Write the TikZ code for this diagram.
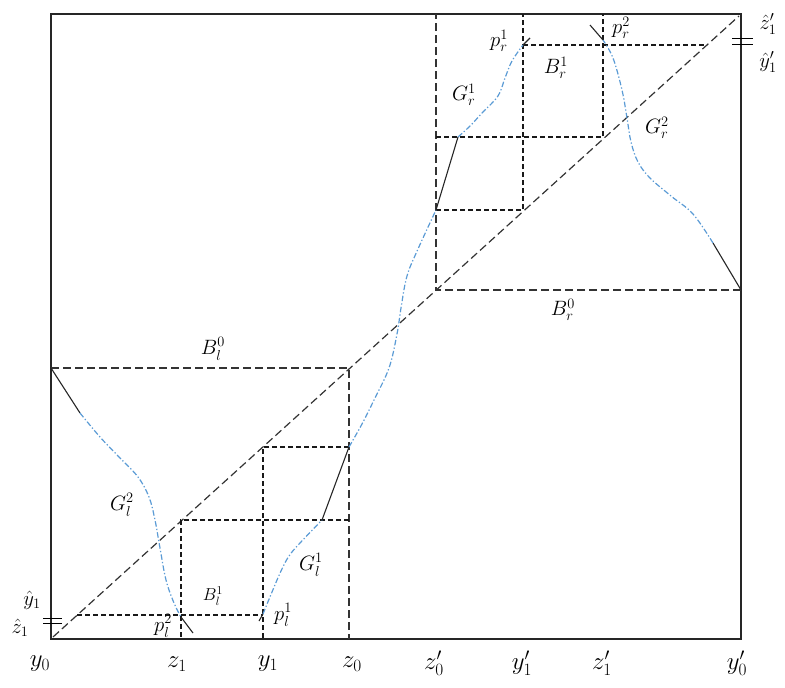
\documentclass[tikz,border=0pt]{standalone}
\usepackage{amsmath}
\definecolor{gblue}{RGB}{91,155,213}
\begin{document}
\begin{tikzpicture}[x=1pt,y=-1pt,
  frame/.style={line width=1.2pt,black!85},
  longdash/.style={line width=1.2pt,black!80,dash pattern=on 8pt off 4pt},
  shortdash/.style={line width=1.1pt,black!90,dash pattern=on 5pt off 3pt},
  gcurve/.style={line width=1.2pt,gblue,dash pattern=on 5.5pt off 2.2pt on 1.3pt off 2.2pt},
  seg/.style={line width=1.1pt,black!85},
  tick/.style={line width=1pt,black},
  lab/.style={inner sep=0pt,font=\fontsize{22}{26}\selectfont},
  smalllab/.style={inner sep=0pt,font=\fontsize{18}{21}\selectfont},
  axlab/.style={inner sep=0pt,font=\fontsize{26}{30}\selectfont},
  hatlab/.style={inner sep=0pt,font=\fontsize{20}{24}\selectfont}]
\useasboundingbox (0,0) rectangle (785,688);
% frame
\coordinate (BL) at (51,639);
\coordinate (TR) at (741,14);
\draw[frame] (BL) rectangle (TR);
% diagonal
\coordinate (d0) at (53,637);
\coordinate (d1) at (739,16);
\draw[longdash] (d0) -- (d1);
% bottom-left boxes
\coordinate (bl0a) at (51,368);
\coordinate (bl0b) at (349,368);
\coordinate (bl0c) at (349,639);
\draw[longdash] (bl0a) -- (bl0b) -- (bl0c);
\coordinate (q1a) at (263,447);
\coordinate (q1b) at (349,447);
\coordinate (q1c) at (263,639);
\draw[shortdash] (q1b) -- (q1a) -- (q1c);
\coordinate (q2a) at (181,520);
\coordinate (q2b) at (349,520);
\coordinate (q2c) at (181,639);
\draw[shortdash] (q2b) -- (q2a) -- (q2c);
\coordinate (q3a) at (77,615);
\coordinate (q3b) at (263,615);
\draw[shortdash] (q3a) -- (q3b);
% top-right boxes
\coordinate (br0a) at (741,290);
\coordinate (br0b) at (436,290);
\coordinate (br0c) at (436,14);
\draw[longdash] (br0a) -- (br0b) -- (br0c);
\coordinate (r1a) at (523,210);
\coordinate (r1b) at (436,210);
\coordinate (r1c) at (523,14);
\draw[shortdash] (r1b) -- (r1a) -- (r1c);
\coordinate (r2a) at (603,137);
\coordinate (r2b) at (436,137);
\coordinate (r2c) at (603,14);
\draw[shortdash] (r2b) -- (r2a) -- (r2c);
\coordinate (r3a) at (523,45);
\coordinate (r3b) at (707,45);
\draw[shortdash] (r3a) -- (r3b);
% G curves (first family)
\coordinate (pl1) at (263,614);
\coordinate (gl1a) at (322,520);
\coordinate (gl1b) at (349,447);
\coordinate (gr1b) at (436,210);
\coordinate (gr1a) at (458,137);
\coordinate (pr1) at (523,45);
\draw[gcurve] plot[smooth,tension=0.6] coordinates {(263,614) (272,592) (281,571) (289,556) (300,543) (322,520)};
\draw[seg] (gl1a) -- (gl1b);
\draw[gcurve] plot[smooth,tension=0.6] coordinates {(349,447) (362,424) (374,400) (389,368) (397,334) (401,308) (407,276) (418,249) (436,210)};
\draw[seg] (gr1b) -- (gr1a);
\draw[gcurve] plot[smooth,tension=0.6] coordinates {(458,137) (470,126) (483,112) (498,96) (505,78) (512,61) (523,45)};
\coordinate (pl1e) at (259,621);
\coordinate (pr1e) at (530,38);
\draw[seg] (pl1) -- (pl1e);
\draw[seg] (pr1) -- (pr1e);
% G curves (second family)
\coordinate (gl2s) at (51,368);
\coordinate (gl2a) at (80,413);
\coordinate (pl2) at (181,617);
\coordinate (pl2e) at (193,633);
\draw[seg] (gl2s) -- (gl2a);
\draw[gcurve] plot[smooth,tension=0.6] coordinates {(80,413) (100,437) (120,458) (138,477) (149,497) (155,520) (160,548) (166,580) (174,603) (181,617)};
\draw[seg] (pl2) -- (pl2e);
\coordinate (gr2s) at (741,290);
\coordinate (gr2a) at (713,243);
\coordinate (pr2) at (603,40);
\coordinate (pr2e) at (590,25);
\draw[seg] (gr2s) -- (gr2a);
\draw[gcurve] plot[smooth,tension=0.6] coordinates {(713,243) (693,214) (671,196) (650,178) (638,162) (631,142) (627,118) (622,90) (613,58) (603,40)};
\draw[seg] (pr2) -- (pr2e);
% tick marks
\coordinate (tl1a) at (43,618); \coordinate (tl1b) at (62,618);
\coordinate (tl2a) at (43,623); \coordinate (tl2b) at (62,623);
\draw[tick] (tl1a) -- (tl1b);
\draw[tick] (tl2a) -- (tl2b);
\coordinate (tr1a) at (732,38); \coordinate (tr1b) at (753,38);
\coordinate (tr2a) at (732,44); \coordinate (tr2b) at (753,44);
\draw[tick] (tr1a) -- (tr1b);
\draw[tick] (tr2a) -- (tr2b);
% labels
\node[lab] (LBl0) at (213,349) {$B_l^0$};
\node[lab] (LBr0) at (563,310) {$B_r^0$};
\node[lab] (LGl2) at (122,505) {$G_l^2$};
\node[lab] (LGl1) at (311,565) {$G_l^1$};
\node[smalllab] (LBl1) at (213,596) {$B_l^1$};
\node[lab] (Lpl1) at (283,615) {$p_l^1$};
\node[lab] (Lpl2) at (163,626) {$p_l^2$};
\node[lab] (Lpr1) at (499,41) {$p_r^1$};
\node[lab] (Lpr2) at (621,28) {$p_r^2$};
\node[lab] (LBr1) at (556,68) {$B_r^1$};
\node[lab] (LGr1) at (464,95) {$G_r^1$};
\node[lab] (LGr2) at (657,128) {$G_r^2$};
\node[hatlab] (Ly1h) at (32,600) {$\hat{y}_1$};
\node[hatlab] (Lz1h) at (20,628) {$\hat{z}_1$};
\node[hatlab] (Lz1ph) at (768,24) {$\hat{z}_1'$};
\node[hatlab] (Ly1ph) at (768,62) {$\hat{y}_1'$};
\node[axlab] (Ay0) at (40,664) {$y_0$};
\node[axlab] (Az1) at (177,664) {$z_1$};
\node[axlab] (Ay1) at (268,664) {$y_1$};
\node[axlab] (Az0) at (352,664) {$z_0$};
\node[axlab] (Az0p) at (434,663) {$z_0'$};
\node[axlab] (Ay1p) at (522,663) {$y_1'$};
\node[axlab] (Az1p) at (602,663) {$z_1'$};
\node[axlab] (Ay0p) at (737,663) {$y_0'$};
\end{tikzpicture}
\end{document}
